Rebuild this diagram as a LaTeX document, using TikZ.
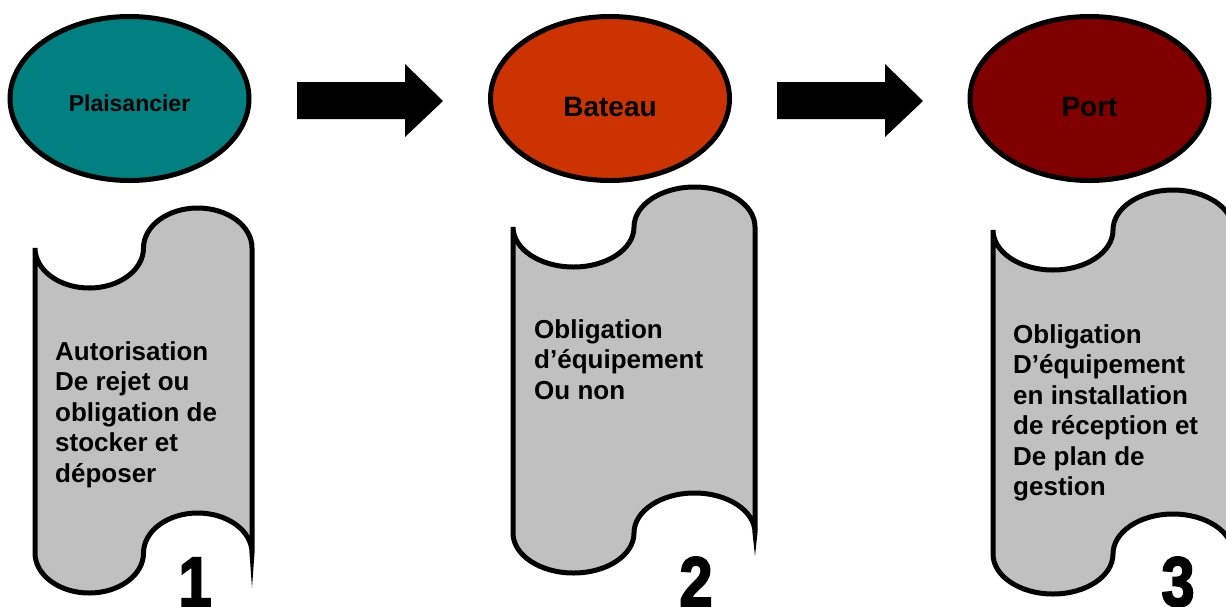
\documentclass[tikz,border=0pt]{standalone}
\usepackage{graphicx}
\usepackage{fontspec}
\setmainfont{Liberation Sans}
\newfontfamily\digitfont[FakeBold=3]{Liberation Sans Bold}
\usetikzlibrary{shapes.geometric}
\definecolor{tealfill}{HTML}{008080}
\definecolor{orangefill}{HTML}{CC3300}
\definecolor{maroonfill}{HTML}{800000}
\definecolor{tapegray}{HTML}{C0C0C0}
\begin{document}
\begin{tikzpicture}[x=1pt,y=-1pt,
  oval/.style={ellipse, draw=black, line width=5pt, minimum width=239pt, minimum height=164pt, inner sep=0pt, font=\bfseries\fontsize{28}{30}\selectfont, text height=35pt, text depth=0pt},
  tape/.style={draw=black, fill=tapegray, line width=5pt},
  spike/.style={fill=black},
  tapetext/.style={anchor=north west, inner sep=0pt, align=left, font=\bfseries\fontsize{26}{30.5}\selectfont},
  numlabel/.style={anchor=base, inner sep=0pt, font=\digitfont\fontsize{70}{70}\selectfont},
  blockarrow/.style={fill=black}]
\useasboundingbox (0,0) rectangle (1226,606);
\clip (0,0) rectangle (1226,606);

% ovals
\node[oval, fill=tealfill, font=\bfseries\fontsize{23}{25}\selectfont, text height=25pt] (plais) at (129.5,98.5) {Plaisancier};
\node[oval, fill=orangefill] (bateau) at (610,98.5) {Bateau};
\node[oval, fill=maroonfill] (port) at (1089.5,98.5) {Port};

% block arrows
\fill[blockarrow] (297,82) -- (405,82) -- (405,64) -- (443,101) -- (405,137) -- (405,119) -- (297,119) -- cycle;
\fill[blockarrow] (777,82) -- (885,82) -- (885,64) -- (923,101) -- (885,137) -- (885,119) -- (777,119) -- cycle;

% tapes
\draw[tape] (35,248)
  arc[start angle=180,end angle=360,x radius=54.25pt,y radius=40pt]
  arc[start angle=180,end angle=0,x radius=54.25pt,y radius=40pt]
  -- (252,553)
  arc[start angle=0,end angle=180,x radius=54.25pt,y radius=40pt]
  arc[start angle=0,end angle=-180,x radius=54.25pt,y radius=40pt]
  -- cycle;
\fill[spike] (249.5,553) -- (254.5,553) -- (252,588) -- cycle;

\draw[tape] (513,227)
  arc[start angle=180,end angle=360,x radius=60.5pt,y radius=40pt]
  arc[start angle=180,end angle=0,x radius=60.5pt,y radius=40pt]
  -- (755,533)
  arc[start angle=0,end angle=180,x radius=60.5pt,y radius=40pt]
  arc[start angle=0,end angle=-180,x radius=60.5pt,y radius=40pt]
  -- cycle;
\fill[spike] (752.5,533) -- (757.5,533) -- (755,556) -- cycle;

\draw[tape] (993,230)
  arc[start angle=180,end angle=360,x radius=60pt,y radius=40pt]
  arc[start angle=180,end angle=0,x radius=60pt,y radius=40pt]
  -- (1233,554)
  arc[start angle=0,end angle=180,x radius=60pt,y radius=40pt]
  arc[start angle=0,end angle=-180,x radius=60pt,y radius=40pt]
  -- cycle;

% texts
\node[tapetext] (t1) at (55,341) {Autorisation\\De rejet ou\\obligation de\\stocker et\\déposer};
\node[tapetext] (t2) at (534,319) {Obligation\\d’équipement\\Ou non};
\node[tapetext] (t3) at (1013,324) {Obligation\\D’équipement\\en installation\\de réception et\\De plan de\\gestion};

% numbers
\node[numlabel] (n1) at (195,606) {\scalebox{0.85}[1]{1}};
\node[numlabel] (n2) at (696,606) {\scalebox{0.85}[1]{2}};
\node[numlabel] (n3) at (1178,606) {\scalebox{0.85}[1]{3}};
\end{tikzpicture}
\end{document}
